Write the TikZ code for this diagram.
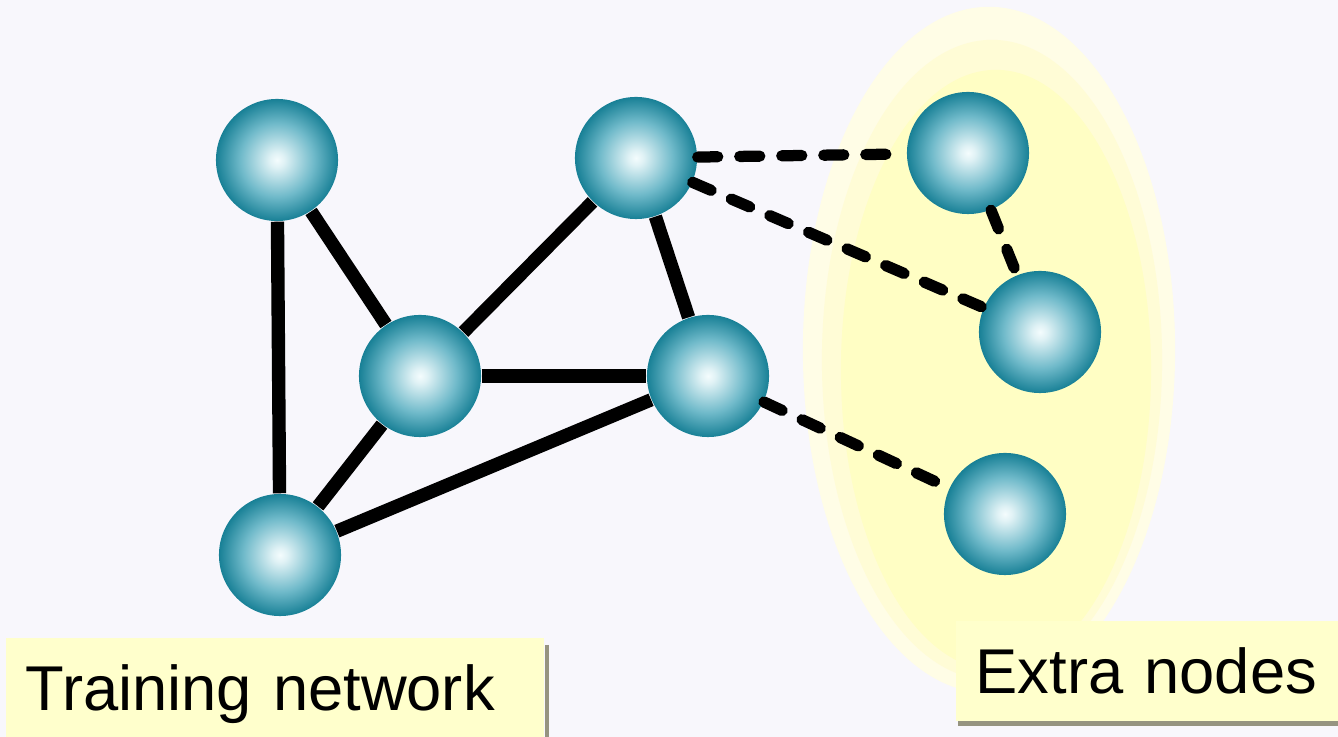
\documentclass[tikz,border=0pt]{standalone}
\usepackage{fontspec}
\setmainfont{Liberation Sans}
\definecolor{bgcol}{RGB}{248,247,252}
\definecolor{glowa}{RGB}{255,253,230}
\definecolor{glowb}{RGB}{255,252,214}
\definecolor{glowc}{RGB}{255,254,196}
\definecolor{boxcol}{RGB}{255,255,204}
\definecolor{shadowcol}{RGB}{150,148,128}
\definecolor{ballhi}{RGB}{244,252,253}
\definecolor{ballmid}{RGB}{112,186,202}
\definecolor{balledge}{RGB}{24,128,150}
\pgfdeclareradialshading{ballshade}{\pgfpoint{0bp}{0bp}}{color(0bp)=(ballhi); color(3bp)=(ballhi!85!ballmid); color(15bp)=(ballmid); color(25bp)=(balledge); color(50bp)=(balledge)}
\tikzset{
  ball/.style={circle, minimum size=1.22cm, inner sep=0pt, shading=ballshade},
  tie/.style={line width=3.8pt},
  extratie/.style={line width=3.2pt, line cap=round, dash pattern=on 0.2cm off 0.22cm},
  labelbox/.style={fill=boxcol, anchor=north west, inner xsep=0.2cm, inner ysep=0pt,
    minimum height=1cm, align=left, font=\fontsize{18}{20}\selectfont}
}
\begin{document}
\begin{tikzpicture}[x=0.01cm, y=-0.01cm]
	\fill[bgcol] (0,0) rectangle (1338,737);
	\useasboundingbox (0,0) rectangle (1338,737);
	\fill[glowa] (989,350) ellipse [x radius=1.86cm, y radius=3.43cm];
	\fill[glowb] (992,360) ellipse [x radius=1.7cm, y radius=3.2cm];
	\fill[glowc] (996,370) ellipse [x radius=1.55cm, y radius=3.0cm];
	\node[ball] (t1) at (277,160) {};
	\node[ball] (t2) at (636,158) {};
	\node[ball] (t3) at (420,376) {};
	\node[ball] (t4) at (708,376) {};
	\node[ball] (t5) at (280,555) {};
	\node[ball] (e1) at (968,153) {};
	\node[ball] (e2) at (1040,332) {};
	\node[ball] (e3) at (1005,514) {};
	\foreach \a/\b in {t1/t5, t1/t3, t3/t2, t2/t4, t3/t4, t3/t5, t5/t4}
		\draw[tie] (\a) -- (\b);
	\foreach \a/\b in {t2/e1, t2/e2, e1/e2, t4/e3}
		\draw[extratie] (\a) -- (\b);
	\node[labelbox, text width=4.98cm, text height=0.58cm] (trainbox) at (5,637) {Training network};
	\node[labelbox, text width=3.43cm] (extrabox) at (955,620) {Extra nodes};
	\draw[shadowcol, line width=1.2pt] ([xshift=0.02cm, yshift=-0.08cm]trainbox.north east) -- ([xshift=0.02cm]trainbox.south east);
	\draw[shadowcol, line width=1.2pt] ([xshift=0.03cm, yshift=-0.02cm]extrabox.south west) -- ([yshift=-0.02cm]extrabox.south east);
\end{tikzpicture}
\end{document}
